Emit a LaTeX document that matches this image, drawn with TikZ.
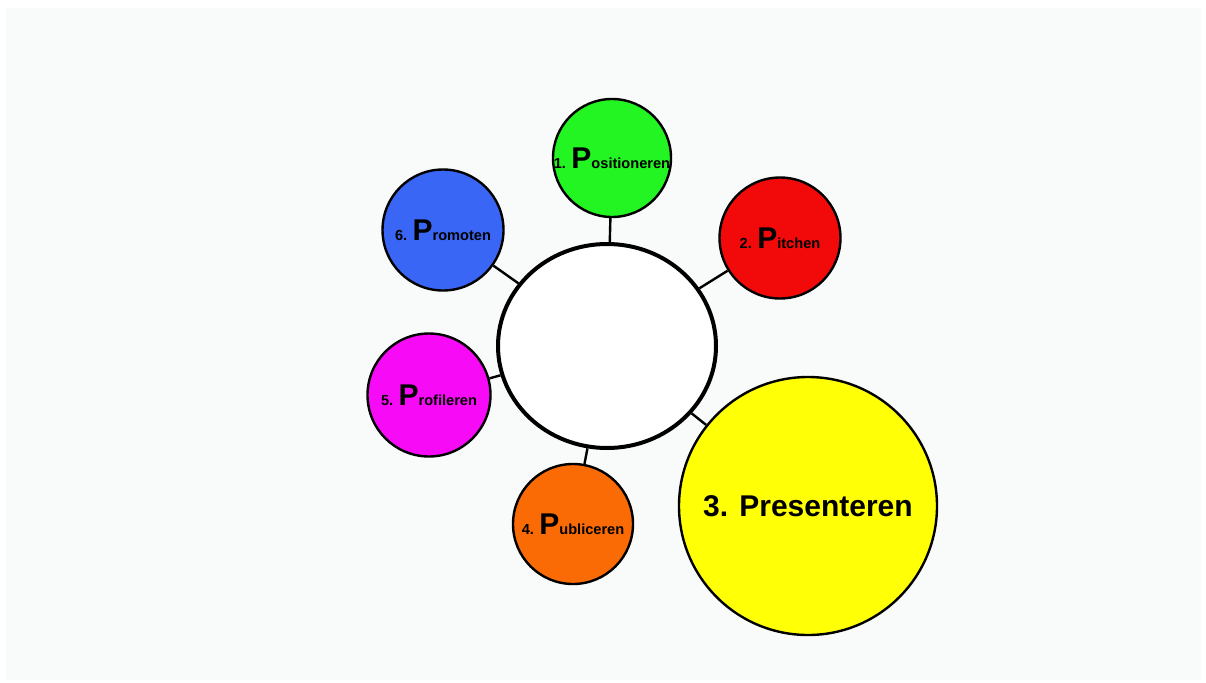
\documentclass[tikz,border=0pt]{standalone}
\usepackage{fontspec}
\setmainfont{Liberation Sans}
\usepackage{tikz}
\usetikzlibrary{shapes.geometric}
\definecolor{cgroen}{HTML}{22F522}
\definecolor{crood}{HTML}{F20A0A}
\definecolor{cblauw}{HTML}{3A66F5}
\definecolor{cpaars}{HTML}{F70AF5}
\definecolor{coranje}{HTML}{FA6A05}
\definecolor{cgeel}{HTML}{FFFF05}
\definecolor{cachter}{HTML}{F9FAFA}
\newcommand{\grootP}{{\fontsize{30}{30}\selectfont P}}
\tikzset{
  bol/.style={circle, draw=black, line width=2.4pt, inner sep=0pt},
  kern/.style={ellipse, draw=black, fill=white, line width=4pt,
    minimum width=218pt, minimum height=204pt},
  stap/.style={font=\bfseries\fontsize{14.6}{16}\selectfont},
  lijn/.style={line width=2.4pt, draw=black},
}
\begin{document}
\begin{tikzpicture}[x=1pt,y=-1pt]
  \useasboundingbox (0,0) rectangle (1206,682);
  \fill[white] (0,0) rectangle (1206,682);
  \fill[cachter] (6,8) rectangle (1201,680);
  % midden
  \node[kern] (kern) at (607,346) {};
  % de zes P's
  \node[bol, fill=cgroen, minimum size=118pt,
    label={[stap]center:1. \grootP ositioneren}] (pos) at (612,158) {};
  \node[bol, fill=crood, minimum size=121pt,
    label={[stap]center:2. \grootP itchen}] (pit) at (780,238) {};
  \node[bol, fill=cgeel, minimum size=258pt,
    label={[font=\bfseries\fontsize{30}{32}\selectfont]center:3. Presenteren}] (pre) at (808,506) {};
  \node[bol, fill=coranje, minimum size=120pt,
    label={[stap]center:4. \grootP ubliceren}] (pub) at (573,524) {};
  \node[bol, fill=cpaars, minimum size=123pt,
    label={[stap]center:5. \grootP rofileren}] (pro) at (429,395) {};
  \node[bol, fill=cblauw, minimum size=121pt,
    label={[stap]center:6. \grootP romoten}] (prm) at (443,230) {};
  % verbindingen
  \foreach \p in {pos,pit,pre,pub,pro,prm}
    \draw[lijn] (kern) -- (\p);
\end{tikzpicture}
\end{document}
